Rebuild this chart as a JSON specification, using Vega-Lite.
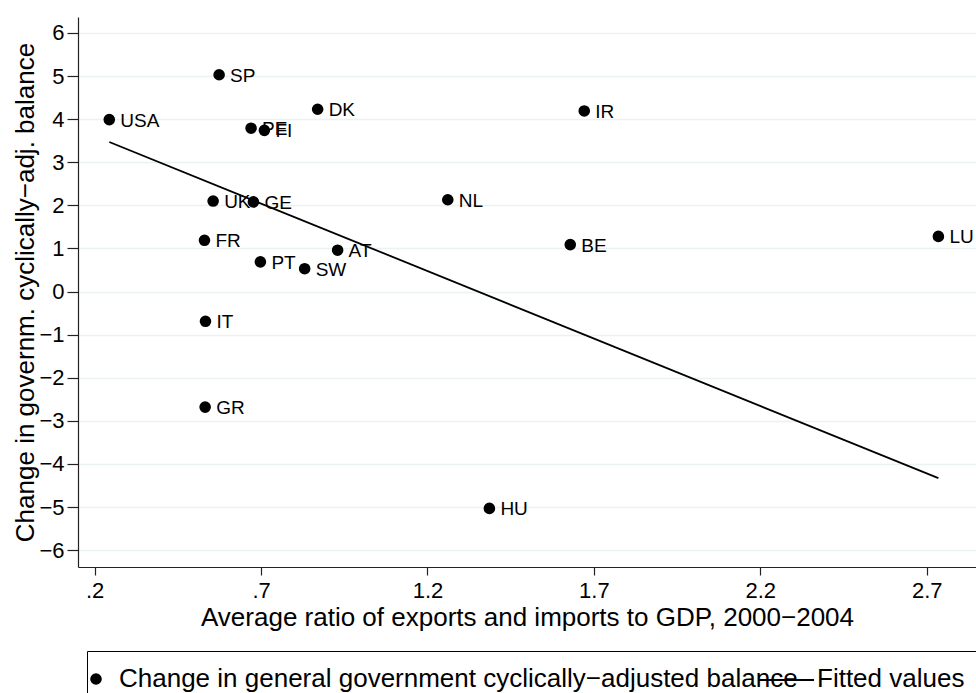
{
  "$schema": "https://vega.github.io/schema/vega-lite/v6.json",
  "autosize": "none",
  "width": 898,
  "height": 550,
  "padding": {"left": 78, "top": 17, "right": 0, "bottom": 126},
  "background": "white",
  "config": {
    "font": "Liberation Sans",
    "view": {"stroke": null},
    "axis": {"labelFont": "Liberation Sans", "titleFont": "Liberation Sans", "labelColor": "black", "titleColor": "black", "titleFontWeight": "normal", "domainColor": "#222", "tickColor": "#222", "domainWidth": 1.2, "tickWidth": 1.2}
  },
  "datasets": {
    "countries": [
      {"country": "USA", "openness": 0.244, "balance": 3.99, "series": "Change in general government cyclically−adjusted balance"},
      {"country": "SP", "openness": 0.574, "balance": 5.03, "series": "Change in general government cyclically−adjusted balance"},
      {"country": "PE", "openness": 0.670, "balance": 3.79, "series": "Change in general government cyclically−adjusted balance"},
      {"country": "FI", "openness": 0.710, "balance": 3.74, "series": "Change in general government cyclically−adjusted balance"},
      {"country": "DK", "openness": 0.870, "balance": 4.23, "series": "Change in general government cyclically−adjusted balance"},
      {"country": "UK", "openness": 0.556, "balance": 2.10, "series": "Change in general government cyclically−adjusted balance"},
      {"country": "GE", "openness": 0.677, "balance": 2.08, "series": "Change in general government cyclically−adjusted balance"},
      {"country": "FR", "openness": 0.530, "balance": 1.19, "series": "Change in general government cyclically−adjusted balance"},
      {"country": "PT", "openness": 0.698, "balance": 0.69, "series": "Change in general government cyclically−adjusted balance"},
      {"country": "SW", "openness": 0.831, "balance": 0.53, "series": "Change in general government cyclically−adjusted balance"},
      {"country": "AT", "openness": 0.930, "balance": 0.96, "series": "Change in general government cyclically−adjusted balance"},
      {"country": "IT", "openness": 0.533, "balance": -0.69, "series": "Change in general government cyclically−adjusted balance"},
      {"country": "GR", "openness": 0.532, "balance": -2.68, "series": "Change in general government cyclically−adjusted balance"},
      {"country": "IR", "openness": 1.671, "balance": 4.19, "series": "Change in general government cyclically−adjusted balance"},
      {"country": "NL", "openness": 1.261, "balance": 2.13, "series": "Change in general government cyclically−adjusted balance"},
      {"country": "BE", "openness": 1.629, "balance": 1.09, "series": "Change in general government cyclically−adjusted balance"},
      {"country": "LU", "openness": 2.735, "balance": 1.28, "series": "Change in general government cyclically−adjusted balance"},
      {"country": "HU", "openness": 1.386, "balance": -5.03, "series": "Change in general government cyclically−adjusted balance"}
    ],
    "fit": [
      {"openness": 0.244, "fitted": 3.47, "fitlabel": "Fitted values"},
      {"openness": 2.735, "fitted": -4.33, "fitlabel": "Fitted values"}
    ]
  },
  "layer": [
    {
      "data": {"name": "countries"},
      "mark": {"type": "text", "align": "left", "baseline": "middle", "dx": 11, "dy": 1, "fontSize": 19, "font": "Liberation Sans", "color": "black"},
      "encoding": {
        "x": {"field": "openness", "type": "quantitative", "scale": {"domain": [0.15, 2.848], "nice": false, "zero": false},
          "axis": {"values": [0.2, 0.7, 1.2, 1.7, 2.2, 2.7], "labelExpr": "datum.value < 1 ? replace(format(datum.value, '.1f'), '0.', '.') : format(datum.value, '.1f')", "grid": false, "tickSize": 8, "labelFontSize": 22, "labelPadding": 5, "labelFlush": false, "title": "Average ratio of exports and imports to GDP, 2000−2004", "titleFontSize": 26, "titlePadding": 3}},
        "y": {"field": "balance", "type": "quantitative", "scale": {"domain": [-6.39, 6.37], "nice": false, "zero": false},
          "axis": {"values": [-6, -5, -4, -3, -2, -1, 0, 1, 2, 3, 4, 5, 6], "format": "d", "grid": true, "gridColor": "#eaf2f3", "gridWidth": 1.5, "tickSize": 11, "labelFontSize": 22, "labelPadding": 3, "labelAngle": 0, "title": "Change in governm. cyclically−adj. balance", "titleFontSize": 26, "titlePadding": 0}},
        "text": {"field": "country"}
      }
    },
    {
      "data": {"name": "countries"},
      "mark": {"type": "point", "filled": true, "color": "black", "opacity": 1},
      "encoding": {
        "x": {"field": "openness", "type": "quantitative"},
        "y": {"field": "balance", "type": "quantitative"},
        "size": {"field": "series", "type": "nominal",
          "scale": {"type": "ordinal", "domain": ["Change in general government cyclically−adjusted balance", "Fitted values"], "range": [135, 0]},
          "legend": {"title": null, "orient": "none", "legendX": 9, "legendY": 634, "direction": "horizontal", "columns": 2, "columnPadding": -4, "labelFontSize": 26, "labelLimit": 2000, "labelOffset": 10, "symbolOffset": -19, "padding": 15, "strokeColor": "black", "symbolFillColor": "black", "symbolStrokeColor": "transparent", "symbolStrokeWidth": 0, "symbolOpacity": 1, "labelColor": "black", "labelFont": "Liberation Sans"}}
      }
    },
    {
      "data": {"name": "fit"},
      "mark": {"type": "line", "strokeWidth": 1.8},
      "encoding": {
        "x": {"field": "openness", "type": "quantitative"},
        "y": {"field": "fitted", "type": "quantitative"},
        "color": {"field": "fitlabel", "type": "nominal", "scale": {"domain": ["Fitted values"], "range": ["black"]},
          "legend": {"title": null, "orient": "none", "legendX": 680, "legendY": 634.5, "labelExpr": "''", "labelFontSize": 8, "symbolType": "stroke", "symbolSize": 3025, "symbolStrokeWidth": 1.8, "symbolStrokeColor": "black", "padding": 0, "strokeColor": "transparent"}}
      }
    }
  ]
}
